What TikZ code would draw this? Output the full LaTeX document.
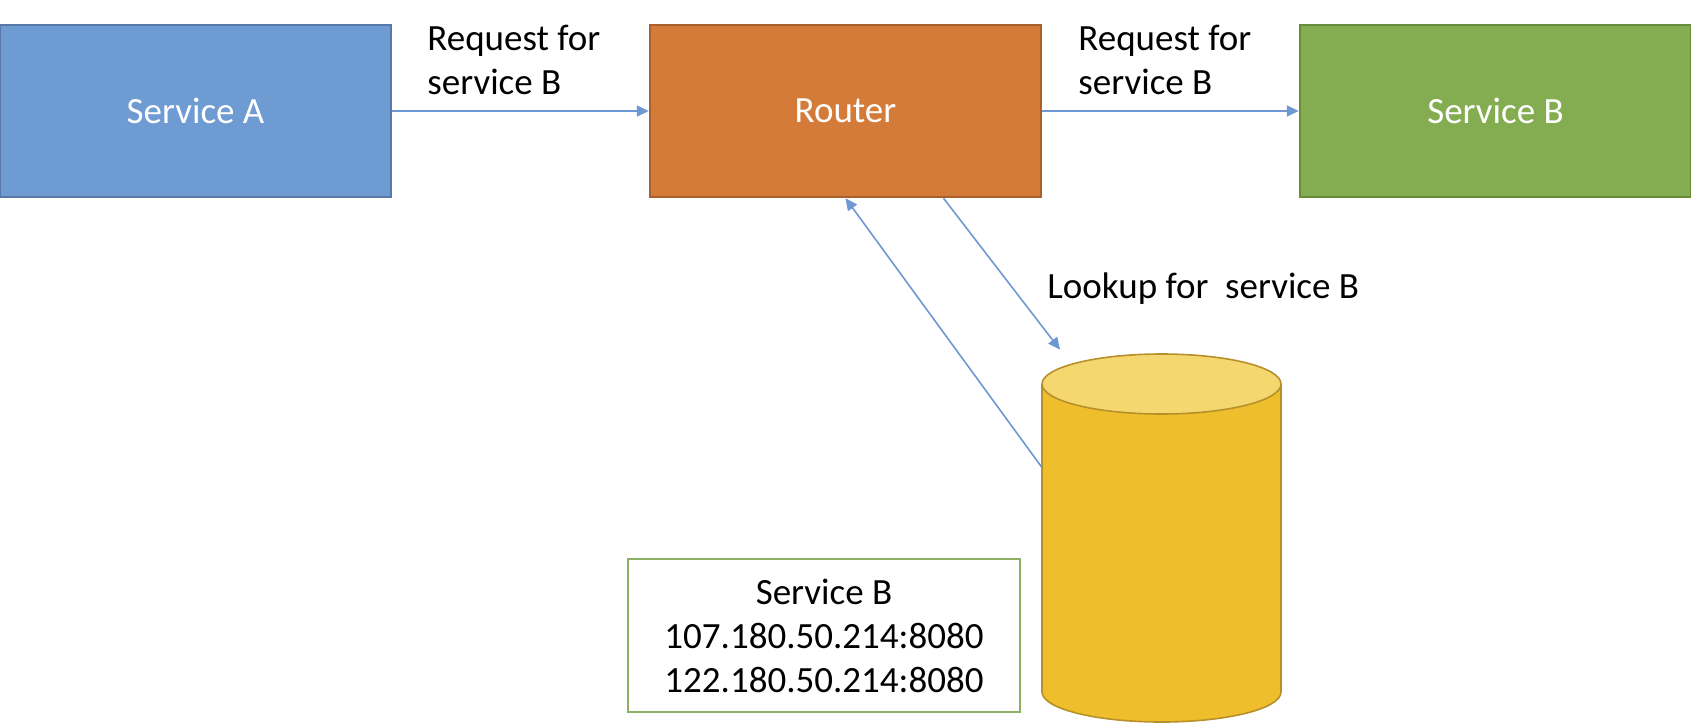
\documentclass[tikz,border=0pt]{standalone}
\usepackage{fontspec}
\setmainfont{Carlito}
\usetikzlibrary{arrows.meta}
\definecolor{svcA}{HTML}{6F9BD3}
\definecolor{svcAline}{HTML}{5778A8}
\definecolor{router}{HTML}{D57B3A}
\definecolor{routerline}{HTML}{A9602C}
\definecolor{svcB}{HTML}{84AD52}
\definecolor{svcBline}{HTML}{668C3C}
\definecolor{dbBody}{HTML}{EFBE2C}
\definecolor{dbTop}{HTML}{F5D770}
\definecolor{dbLine}{HTML}{B8902A}
\definecolor{link}{HTML}{6F98D2}
\definecolor{tableline}{HTML}{8DB065}
\begin{document}
\begin{tikzpicture}[x=0.5pt,y=-0.5pt]
			\tikzstyle{SV}=[rectangle,line width=1.2pt,minimum width=195.5pt,minimum height=86pt,inner sep=0pt,text=white,font=\fontsize{18.5}{22}\selectfont]
			\tikzstyle{LBL}=[inner sep=0pt,align=left,font=\fontsize{18.5}{22}\selectfont]
			\tikzstyle{DB}=[rectangle,minimum width=119.5pt,minimum height=184pt,inner sep=0pt]
			\tikzstyle{TBL}=[rectangle,draw=tableline,line width=1pt,minimum width=196pt,minimum height=76.5pt,align=center,font=\fontsize{18.5}{22}\selectfont]
			\tikzstyle{LNK}=[color=link,line width=0.8pt,-{Triangle[length=6pt,width=5.5pt]}]
			\useasboundingbox (0,0) rectangle (1691,725);
			% the registry cylinder
			\fill[dbBody] (1042,384) -- (1042,692) arc[start angle=180,end angle=360,x radius=59.75pt,y radius=15pt] -- (1281,384) -- cycle;
			\draw[dbLine,line width=0.8pt] (1042,384) -- (1042,692) arc[start angle=180,end angle=360,x radius=59.75pt,y radius=15pt] -- (1281,384);
			\draw[dbLine,fill=dbTop,line width=0.8pt] (1161.5,384) ellipse[x radius=59.75pt,y radius=15pt];
			\begin{scope}
			\node[SV,fill=svcA,draw=svcAline]     (svcA)   at (195.5,111)  {Service A};
			\node[SV,fill=router,draw=routerline] (router) at (845.5,111)  {Router};
			\node[SV,fill=svcB,draw=svcBline]     (svcB)   at (1495.5,111) {Service B};
			\node[DB] (registry) at (1161.5,538) {};
			\node[TBL] (entries) at (824,635.5) {Service B\\107.180.50.214:8080\\122.180.50.214:8080};
			\node[LBL,anchor=north west] (reqA)   at (427,25)   {Request for\\service B};
			\node[LBL,anchor=north west] (reqB)   at (1078,25)  {Request for\\service B};
			\node[LBL,anchor=base west]  (lookup) at (1047,298) {Lookup for\ \ service B};
			\end{scope}
			
			\path
			(svcA) edge[LNK] (router)
			(router) edge[LNK] (svcB)
			([xshift=49pt]router.south) edge[LNK] ([xshift=-50.75pt,yshift=2pt]registry.north)
			([yshift=35.5pt]registry.west) edge[LNK] (router.south)
			;
\end{tikzpicture}
\end{document}
